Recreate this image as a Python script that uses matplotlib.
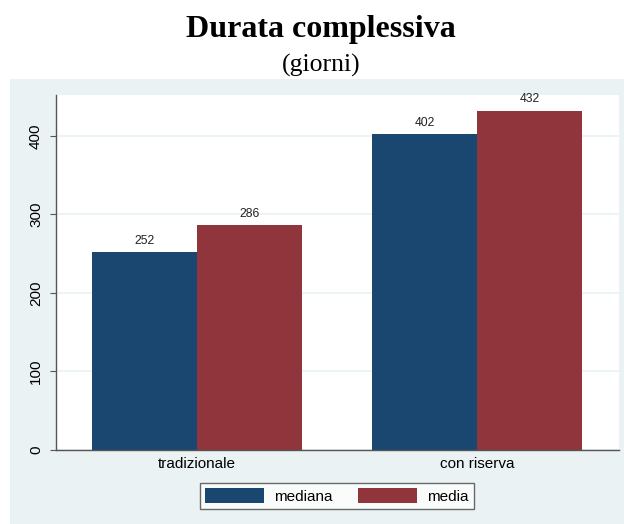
import matplotlib
matplotlib.use("Agg")
import matplotlib.pyplot as plt
import numpy as np
from matplotlib.patches import Rectangle

categories = ["tradizionale", "con riserva"]
mediana = [252, 402]
media = [286, 432]
series_names = ["mediana", "media"]
yticks = [0, 100, 200, 300, 400]

navy = "#1a476f"
maroon = "#90353b"
bg = "#eaf2f3"

W, H = 624, 524
fig = plt.figure(figsize=(W/100, H/100), dpi=100)
fig.patch.set_facecolor("white")
fig.add_artist(Rectangle((10/W, 0), 1, (H-79)/H, transform=fig.transFigure,
                         facecolor=bg, edgecolor="none", zorder=0))

ax = fig.add_axes([56/W, 1-450/H, (619-56)/W, (450-95)/H])
ax.set_facecolor("white")
x = np.arange(len(categories))
w = 0.375
b1 = ax.bar(x - w/2, mediana, w, color=navy, label=series_names[0], zorder=3)
b2 = ax.bar(x + w/2, media, w, color=maroon, label=series_names[1], zorder=3)
for bars, vals in ((b1, mediana), (b2, media)):
    for r, v in zip(bars, vals):
        ax.text(r.get_x() + r.get_width()/2, v + 7, f"{v}", ha="center", va="bottom",
                fontsize=8.7, family="Liberation Sans", color="#222222", zorder=4)

ax.set_xlim(-0.5036, 1.507)
ax.set_ylim(0, 452)
ax.set_yticks(yticks)
ax.set_yticklabels([str(t) for t in yticks], rotation=90, va="center",
                   family="Liberation Sans", fontsize=11)
ax.set_xticks(x)
ax.set_xticklabels(categories, family="Liberation Sans", fontsize=11)
ax.tick_params(axis="x", length=0, pad=5)
ax.tick_params(axis="y", length=4.3, width=0.8, pad=5, color="#555555")
ax.yaxis.grid(True, color=bg, linewidth=1.2, zorder=1)
ax.set_axisbelow(True)
for s in ("top", "right"):
    ax.spines[s].set_visible(False)
for s in ("left", "bottom"):
    ax.spines[s].set_color("#555555")
    ax.spines[s].set_linewidth(1.0)
    ax.spines[s].set_zorder(5)

leg = fig.legend(handles=[b1, b2], labels=series_names, loc="center",
                 bbox_to_anchor=(337/W, 1-496/H), ncol=2, frameon=True,
                 prop={"family": "Liberation Sans", "size": 11},
                 handlelength=3.86, handleheight=1.05, handletextpad=0.65,
                 columnspacing=1.7, borderpad=0.35, fancybox=False)
leg.get_frame().set_edgecolor("#444444")
leg.get_frame().set_linewidth(1.0)
leg.get_frame().set_facecolor("white")

fig.text(321/W, 1-37/H, "Durata complessiva", ha="center", va="baseline",
         family="Liberation Serif", fontweight="bold", fontsize=23)
fig.text(321/W, 1-72/H, "(giorni)", ha="center", va="baseline",
         family="Liberation Serif", fontsize=18.5)

fig.savefig("out.png", dpi=100)
